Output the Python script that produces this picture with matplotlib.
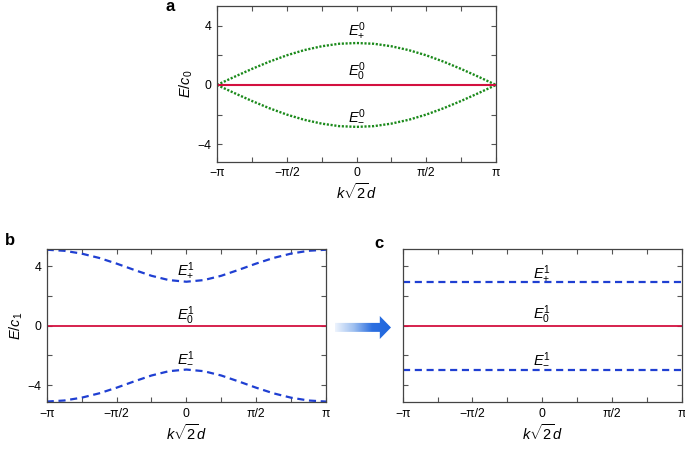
import numpy as np
import matplotlib
matplotlib.use("Agg")
import matplotlib.pyplot as plt
from matplotlib.patches import Polygon
from matplotlib.colors import LinearSegmentedColormap

plt.rcParams['font.family'] = ['Liberation Sans', 'DejaVu Sans']
plt.rcParams['mathtext.fontset'] = 'custom'
plt.rcParams['mathtext.rm'] = 'Liberation Sans'
plt.rcParams['mathtext.it'] = 'Liberation Sans:italic'
plt.rcParams['mathtext.sf'] = 'Liberation Sans'
plt.rcParams['mathtext.bf'] = 'Liberation Sans:bold'

PI = np.pi
# k*sqrt(2)*d sample points (multiples of pi/8)
k_steps = [-8, -7, -6, -5, -4, -3, -2, -1, 0, 1, 2, 3, 4, 5, 6, 7, 8]
# panel a: upper band E_+^0 / c0 (lower band is its mirror)
e_plus_a = [0.0, 0.55, 1.08, 1.57, 2.0, 2.35, 2.61, 2.78, 2.83,
            2.78, 2.61, 2.35, 2.0, 1.57, 1.08, 0.55, 0.0]
e_minus_a = [-v for v in e_plus_a]
e_zero_a = [0.0] * 17
# panel b: E_+^1 / c1
e_plus_b = [5.10, 5.03, 4.84, 4.55, 4.17, 3.75, 3.35, 3.06, 2.95,
            3.06, 3.35, 3.75, 4.17, 4.55, 4.84, 5.03, 5.10]
e_minus_b = [-v for v in e_plus_b]
e_zero_b = [0.0] * 17
# panel c: flat bands
e_plus_c = [2.95] * 17
e_minus_c = [-2.95] * 17
e_zero_c = [0.0] * 17

xtick_vals = [-1, -0.75, -0.5, -0.25, 0, 0.25, 0.5, 0.75, 1]
xtick_labels = ['\u2212\u03c0', '', '\u2212\u03c0/2', '', '0', '', '\u03c0/2', '', '\u03c0']
ytick_vals = [-4, -2, 0, 2, 4]
ytick_labels = ['\u22124', '', '0', '', '4']

k = np.array(k_steps) * PI / 8

GREEN = '#1b8a1b'
RED = '#d3103f'
BLUE = '#1f3fd2'
TICKFS = 8.8
LABFS = 10.5
BANDFS = 10.5

fig = plt.figure(figsize=(6.85, 4.5), dpi=100)

def style(ax, ylab=None, show_ylabels=True):
    ax.set_xlim(-PI, PI)
    ax.set_xticks([v * PI for v in xtick_vals])
    ax.set_xticklabels(xtick_labels, fontsize=TICKFS)
    ax.set_yticks(ytick_vals)
    if show_ylabels:
        ax.set_yticklabels(ytick_labels, fontsize=TICKFS)
    else:
        ax.set_yticklabels([''] * len(ytick_vals))
    ax.tick_params(direction='in', top=True, right=True, length=3.5,
                   width=0.8, color='#555555', pad=4)
    for s in ax.spines.values():
        s.set_color('#444444')
        s.set_linewidth(0.9)
    ax.set_xlabel(r'$k\sqrt{2}d$', fontsize=LABFS, labelpad=2)
    if ylab:
        ax.set_ylabel(ylab, fontsize=LABFS, labelpad=2)

# panel a
axa = fig.add_axes([0.3168, 0.6407, 0.4073, 0.346])
axa.plot(k, e_plus_a, color=GREEN, lw=1.7, linestyle=(0, (0.9, 0.7)))
axa.plot(k, e_minus_a, color=GREEN, lw=1.7, linestyle=(0, (0.9, 0.7)))
axa.plot(k, e_zero_a, color=RED, lw=1.5)
axa.set_ylim(-5.18, 5.33)
style(axa, r'$E/c_0$')
axa.text(0, 3.37, r'$E_{+}^{0}$', ha='center', va='baseline', fontsize=BANDFS)
axa.text(0, 0.6, r'$E_{\mathit{0}}^{0}$', ha='center', va='baseline', fontsize=BANDFS)
axa.text(0, -2.36, r'$E_{-}^{0}$', ha='center', va='baseline', fontsize=BANDFS)

# panel b
axb = fig.add_axes([0.0682, 0.106, 0.4077, 0.3407])
axb.plot(k, e_plus_b, color=BLUE, lw=1.6, linestyle=(0, (3.2, 2.1)))
axb.plot(k, e_minus_b, color=BLUE, lw=1.6, linestyle=(0, (3.2, 2.1)))
axb.plot(k, e_zero_b, color=RED, lw=1.3)
axb.set_ylim(-5.15, 5.15)
style(axb, r'$E/c_1$')
axb.text(0, 3.4, r'$E_{+}^{1}$', ha='center', va='baseline', fontsize=BANDFS)
axb.text(0, 0.38, r'$E_{\mathit{0}}^{1}$', ha='center', va='baseline', fontsize=BANDFS)
axb.text(0, -2.42, r'$E_{-}^{1}$', ha='center', va='baseline', fontsize=BANDFS)

# panel c
axc = fig.add_axes([0.5879, 0.106, 0.4073, 0.3407])
axc.plot(k, e_plus_c, color=BLUE, lw=1.6, linestyle=(0, (3.2, 2.1)))
axc.plot(k, e_minus_c, color=BLUE, lw=1.6, linestyle=(0, (3.2, 2.1)))
axc.plot(k, e_zero_c, color=RED, lw=1.3)
axc.set_ylim(-5.15, 5.15)
style(axc, None, show_ylabels=False)
axc.text(0, 3.18, r'$E_{+}^{1}$', ha='center', va='baseline', fontsize=BANDFS)
axc.text(0, 0.43, r'$E_{\mathit{0}}^{1}$', ha='center', va='baseline', fontsize=BANDFS)
axc.text(0, -2.5, r'$E_{-}^{1}$', ha='center', va='baseline', fontsize=BANDFS)

# panel letters
fig.text(166 / 685, 1 - (-1) / 450, 'a', fontsize=12, fontweight='bold', ha='left', va='top')
fig.text(5 / 685, 1 - 233 / 450, 'b', fontsize=12, fontweight='bold', ha='left', va='top')
fig.text(374 / 685, 1 - 236 / 450, 'c', fontsize=12, fontweight='bold', ha='left', va='top')

# gradient arrow between b and c
axr = fig.add_axes([335 / 685, 1 - 339 / 450, 56 / 685, 23 / 450])
axr.set_xlim(0, 1)
axr.set_ylim(0, 1)
axr.axis('off')
cmap = LinearSegmentedColormap.from_list('arr', ['#eef4fd', '#9fc0f0', '#2c6fe0', '#1f66de'])
grad = np.linspace(0, 1, 256).reshape(1, -1)
im = axr.imshow(grad, extent=[0, 1, 0, 1], aspect='auto', cmap=cmap, origin='lower')
poly = Polygon([[0, 0.31], [0.8, 0.31], [0.8, 0.0], [1.0, 0.5], [0.8, 1.0],
                [0.8, 0.70], [0, 0.70]], closed=True, transform=axr.transData,
               facecolor='none', edgecolor='none')
axr.add_patch(poly)
im.set_clip_path(poly)

fig.savefig('out.png', dpi=100)
